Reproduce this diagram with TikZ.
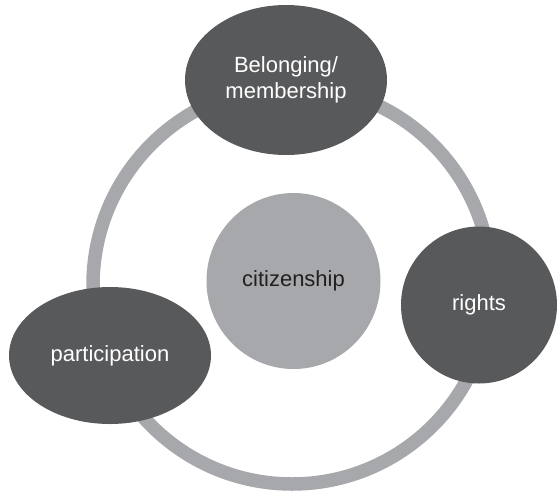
\documentclass[tikz,border=0pt]{standalone}
\usepackage{fontspec}
\setmainfont{Liberation Sans}
\usetikzlibrary{shapes.geometric}
\definecolor{ringgrey}{HTML}{A7A8AB}
\definecolor{bubbledark}{HTML}{58595B}
\definecolor{hubtext}{HTML}{231F20}

\begin{document}
\begin{tikzpicture}[x=1pt, y=-1pt,
    bubble/.style={ellipse, fill=bubbledark, text=white, inner sep=0pt,
      align=center, font=\fontsize{22}{25.5}\selectfont},
    hub/.style={ellipse, fill=ringgrey, text=hubtext, inner sep=0pt,
      font=\fontsize{22}{25.5}\selectfont}]
      \useasboundingbox (0,0) rectangle (557,491);
      \coordinate (O) at (292,285);
      \draw[line width=13.5, ringgrey] (O) circle (199);
      \node[hub, minimum width=174, minimum height=176] (citizenship) at (293.5,281) {citizenship};
      \node[bubble, minimum width=202, minimum height=150] (belonging) at (286,80) {Belonging/\\membership};
      \node[bubble, minimum width=156, minimum height=157] (rights) at (479,305) {rights};
      \node[bubble, minimum width=202, minimum height=137] (participation) at (110,355.5) {participation};
\end{tikzpicture}
\end{document}
